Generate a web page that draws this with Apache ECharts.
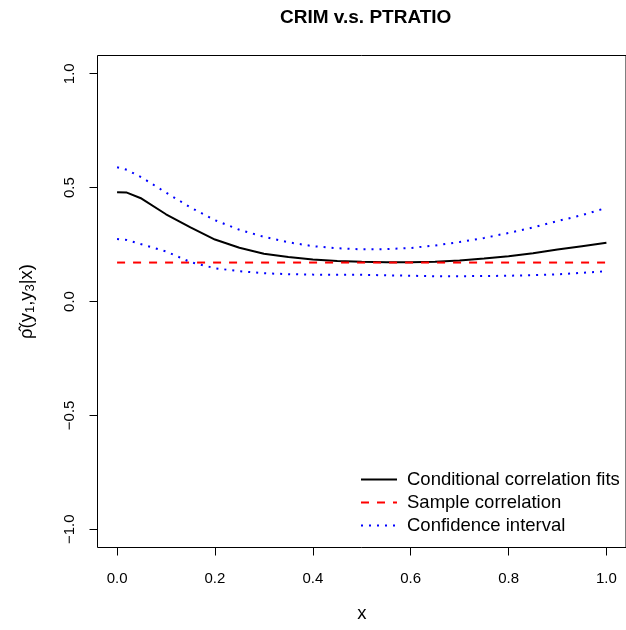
<!DOCTYPE html>
<html>
<head>
<meta charset="utf-8">
<script src="https://cdn.jsdelivr.net/npm/echarts@6/dist/echarts.min.js"></script>
<style>html,body{margin:0;padding:0;background:#fff}#c{width:626px;height:630px}</style>
</head>
<body>
<div id="c"></div>
<script>
// ---- data ----
const xs = [0, 0.02, 0.05, 0.1, 0.15, 0.2, 0.25, 0.3, 0.35, 0.4, 0.45, 0.5, 0.55, 0.6, 0.65, 0.7, 0.75, 0.8, 0.85, 0.9, 0.95, 1.0];
const fitVals = [0.480, 0.478, 0.452, 0.383, 0.325, 0.272, 0.236, 0.210, 0.195, 0.184, 0.178, 0.174, 0.172, 0.172, 0.174, 0.180, 0.189, 0.199, 0.212, 0.228, 0.243, 0.258];
const upperVals = [0.589, 0.578, 0.545, 0.478, 0.413, 0.357, 0.315, 0.284, 0.260, 0.243, 0.234, 0.229, 0.230, 0.235, 0.246, 0.261, 0.279, 0.301, 0.325, 0.353, 0.379, 0.411];
const lowerVals = [0.274, 0.270, 0.251, 0.220, 0.173, 0.146, 0.133, 0.124, 0.120, 0.118, 0.117, 0.117, 0.115, 0.113, 0.111, 0.111, 0.112, 0.113, 0.116, 0.119, 0.126, 0.133];
const sampleCorr = 0.171;
const sampleX = [0, 1];
const xTicks = [0, 0.2, 0.4, 0.6, 0.8, 1.0];
const xTickLabels = ['0.0', '0.2', '0.4', '0.6', '0.8', '1.0'];
const yTicks = [-1, -0.5, 0, 0.5, 1];
const yTickLabels = ['\u22121.0', '\u22120.5', '0.0', '0.5', '1.0'];
const seriesNames = ['Conditional correlation fits', 'Sample correlation', 'Confidence interval'];
const titleText = 'CRIM v.s. PTRATIO';

const pair = (a, b) => a.map((v, i) => [v, b[i]]);
const font = '"Liberation Sans", Arial, Helvetica, sans-serif';

const chart = echarts.init(document.getElementById('c'), null, {renderer: 'canvas'});
chart.setOption({
  animation: false,
  backgroundColor: '#fff',
  textStyle: {fontFamily: font, color: '#000'},
  title: {
    text: titleText, left: 280, top: 8, padding: 0,
    textStyle: {fontFamily: font, fontSize: 19, fontWeight: 'bold', color: '#000'}
  },
  grid: {left: 97.5, top: 55.5, width: 531, height: 492, show: true, borderColor: '#000', borderWidth: 1, containLabel: false},
  legend: {
    orient: 'vertical', left: 355, top: 463, itemWidth: 36, itemHeight: 12, itemGap: 0,
    selectedMode: false,
    itemStyle: {opacity: 0},
    data: seriesNames,
    textStyle: {fontFamily: font, fontSize: 18.5, color: '#000', lineHeight: 23, padding: [0, 0, 0, 5]}
  },
  xAxis: {
    type: 'value', min: -0.04, max: 1.04,
    name: 'x', nameLocation: 'middle', nameGap: 57,
    nameTextStyle: {fontFamily: font, fontSize: 18.5, color: '#000'},
    axisLine: {show: false, onZero: false},
    splitLine: {show: false},
    axisTick: {show: true, inside: false, length: 8, customValues: xTicks, lineStyle: {color: '#000', width: 1}},
    axisLabel: {
      customValues: xTicks, margin: 24, fontFamily: font, fontSize: 15, color: '#000',
      formatter: v => xTickLabels[xTicks.findIndex(t => Math.abs(t - v) < 1e-9)]
    }
  },
  yAxis: {
    type: 'value', min: -1.08, max: 1.08,
    name: '{a|\u03C1\u0302(y}{s|1}{a|,y}{s|3}{a||x)}', nameLocation: 'middle', nameGap: 61, nameRotate: 90,
    nameTextStyle: {
      fontFamily: font, fontSize: 18.5, color: '#000',
      rich: {
        a: {fontFamily: font, fontSize: 18.5, color: '#000'},
        s: {fontFamily: font, fontSize: 13, color: '#000', lineHeight: 13, padding: [9, 0, 0, 0], verticalAlign: 'bottom'}
      }
    },
    axisLine: {show: false, onZero: false},
    splitLine: {show: false},
    axisTick: {show: true, inside: false, length: 8, customValues: yTicks, lineStyle: {color: '#000', width: 1}},
    axisLabel: {
      customValues: yTicks, rotate: 90, margin: 20, fontFamily: font, fontSize: 15, color: '#000',
      formatter: v => yTickLabels[yTicks.findIndex(t => Math.abs(t - v) < 1e-9)]
    }
  },
  series: [
    {name: seriesNames[0], type: 'line', symbol: 'none', data: pair(xs, fitVals),
     lineStyle: {color: '#000', width: 2, type: 'solid'}, itemStyle: {color: '#000'}},
    {name: seriesNames[1], type: 'line', symbol: 'none', data: sampleX.map(x => [x, sampleCorr]),
     lineStyle: {color: '#ff0000', width: 2, type: [8, 8]}, itemStyle: {color: '#ff0000'}},
    {name: seriesNames[2], type: 'line', symbol: 'none', data: pair(xs, upperVals),
     lineStyle: {color: '#0000ff', width: 2, type: [2, 6]}, itemStyle: {color: '#0000ff'}},
    {name: seriesNames[2], type: 'line', symbol: 'none', data: pair(xs, lowerVals),
     lineStyle: {color: '#0000ff', width: 2, type: [2, 6]}, itemStyle: {color: '#0000ff'}}
  ]
});
</script>
</body>
</html>
